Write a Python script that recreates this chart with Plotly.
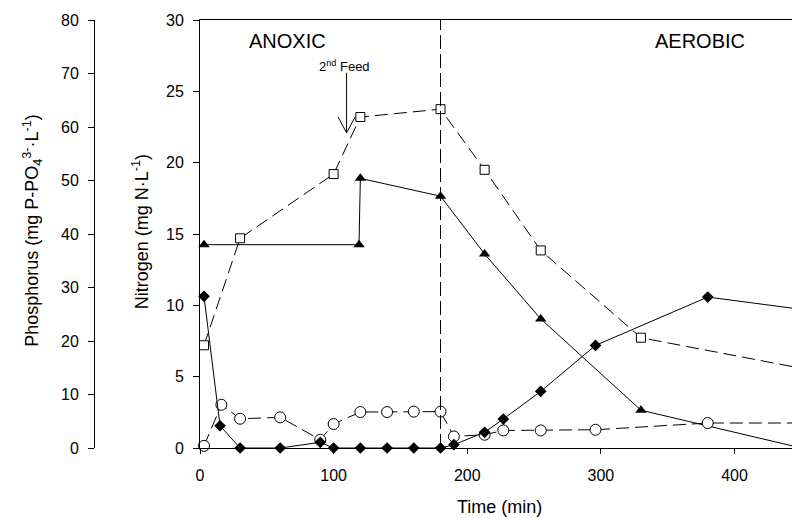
import plotly.graph_objects as go

# ---- data (time in min, nitrogen in mg N/L) ----
t_sq = [3, 30, 100, 120, 180, 213, 255, 330, 480]
nox_sq = [7.2, 14.7, 19.2, 23.2, 23.75, 19.5, 13.85, 7.73, 5.05]

t_tri = [3, 119, 120, 180, 213, 255, 330, 450]
nh4_tri = [14.25, 14.25, 18.9, 17.65, 13.6, 9.05, 2.65, 0.0]

t_circ = [3, 16, 30, 60, 90, 100, 120, 140, 160, 180, 190, 213, 227, 255, 296, 380, 480]
no2_circ = [0.15, 3.03, 2.05, 2.15, 0.58, 1.68, 2.52, 2.52, 2.55, 2.55, 0.81, 0.93, 1.23, 1.23, 1.28, 1.75, 1.75]

t_dia = [3, 15, 30, 60, 90, 100, 120, 140, 160, 180, 190, 213, 227, 255, 296, 380, 480]
no3_dia = [10.63, 1.56, 0.0, 0.0, 0.4, 0.0, 0.0, 0.0, 0.0, 0.0, 0.23, 1.1, 2.03, 3.97, 7.19, 10.58, 9.35]

x_ticks = [0, 100, 200, 300, 400]
n_ticks = [0, 5, 10, 15, 20, 25, 30]
p_ticks = [0, 10, 20, 30, 40, 50, 60, 70, 80]
phase_switch = 180
feed_time = 109.7

FONT = "Liberation Sans, Arial, sans-serif"
W, H = 792, 518
L_AX, P_AX = 197, 90.5
TOP, BOT = 20, 448

def px_x(p):
    return p / W

def px_y(p):
    return (BOT - p) / (BOT - TOP)

fig = go.Figure()

dash = "13px,6px"
fig.add_trace(go.Scatter(x=t_sq, y=nox_sq, mode="lines+markers", cliponaxis=False,
                         line=dict(color="black", width=1, dash=dash),
                         marker=dict(symbol="square", size=9, color="white",
                                     line=dict(color="black", width=1)),
                         showlegend=False, hoverinfo="skip"))
fig.add_trace(go.Scatter(x=t_tri, y=nh4_tri, mode="lines+markers", cliponaxis=False,
                         line=dict(color="black", width=1),
                         marker=dict(symbol="triangle-up", size=10, color="black"),
                         showlegend=False, hoverinfo="skip"))
fig.add_trace(go.Scatter(x=t_circ, y=no2_circ, mode="lines+markers", cliponaxis=False,
                         line=dict(color="black", width=1, dash=dash),
                         marker=dict(symbol="circle", size=11, color="white",
                                     line=dict(color="black", width=1)),
                         showlegend=False, hoverinfo="skip"))
fig.add_trace(go.Scatter(x=t_dia, y=no3_dia, mode="lines+markers", cliponaxis=False,
                         line=dict(color="black", width=1),
                         marker=dict(symbol="diamond", size=9, color="black"),
                         showlegend=False, hoverinfo="skip"))
# invisible trace to carry the phosphorus axis
fig.add_trace(go.Scatter(x=[0], y=[0], yaxis="y2", mode="markers",
                         marker=dict(opacity=0), showlegend=False, hoverinfo="skip"))

# phase separator
fig.add_shape(type="line", x0=phase_switch, x1=phase_switch, y0=0, y1=30,
              xref="x", yref="y", line=dict(color="black", width=1, dash="14px,5px"))
# 2nd feed arrow
fig.add_shape(type="line", x0=feed_time, x1=feed_time, y0=26.3, y1=22.1,
              xref="x", yref="y", line=dict(color="black", width=1))
fig.add_shape(type="line", x0=feed_time - 6.4, x1=feed_time, y0=23.2, y1=22.1,
              xref="x", yref="y", line=dict(color="black", width=1))
fig.add_shape(type="line", x0=feed_time + 6.4, x1=feed_time, y0=23.2, y1=22.1,
              xref="x", yref="y", line=dict(color="black", width=1))

ann = [
    dict(text="ANOXIC", x=px_x(285), y=px_y(41), font=dict(size=20)),
    dict(text="AEROBIC", x=px_x(700), y=px_y(41), font=dict(size=20)),
    dict(text="2<sup>nd</sup> Feed", x=px_x(342), y=px_y(66), font=dict(size=13)),
    dict(text="Time (min)", x=px_x(498), y=px_y(507), font=dict(size=18)),
    dict(text="Nitrogen (mg N·L<sup>-1</sup>)", x=px_x(137), y=px_y(232),
         textangle=-90, font=dict(size=18)),
    dict(text="Phosphorus (mg P-PO<sub>4</sub><sup>3-</sup>·L<sup>-1</sup>)",
         x=px_x(28), y=px_y(230), textangle=-90, font=dict(size=18)),
]
for a in ann:
    a.update(xref="paper", yref="paper", showarrow=False,
             xanchor="center", yanchor="middle")
    a["font"].update(family=FONT, color="black")

fig.update_layout(
    width=W, height=H,
    margin=dict(l=0, r=0, t=TOP, b=H - BOT, pad=0),
    paper_bgcolor="white", plot_bgcolor="white",
    font=dict(family=FONT, size=16, color="black"),
    annotations=ann,
    xaxis=dict(domain=[L_AX / W, 1], range=[0, (W - L_AX) / 1.343],
               tickvals=x_ticks, ticks="outside", ticklen=5, tickwidth=1,
               tickcolor="black", showline=True, linecolor="black", linewidth=1,
               mirror=True, showgrid=False, zeroline=False,
               ticklabelstandoff=8, tickfont=dict(size=16)),
    yaxis=dict(range=[0, 30], tickvals=n_ticks, ticks="outside", ticklen=6,
               tickwidth=1, tickcolor="black", showline=True, linecolor="black",
               linewidth=1, showgrid=False, zeroline=False,
               ticklabelstandoff=6, tickfont=dict(size=16)),
    yaxis2=dict(range=[0, 80], tickvals=p_ticks, overlaying="y", anchor="free",
                position=P_AX / W, side="left", ticks="outside", ticklen=6,
                tickwidth=1, tickcolor="black", showline=True, linecolor="black",
                linewidth=1, showgrid=False, zeroline=False,
                ticklabelstandoff=6, tickfont=dict(size=16)),
)

fig.write_html("out.html")
